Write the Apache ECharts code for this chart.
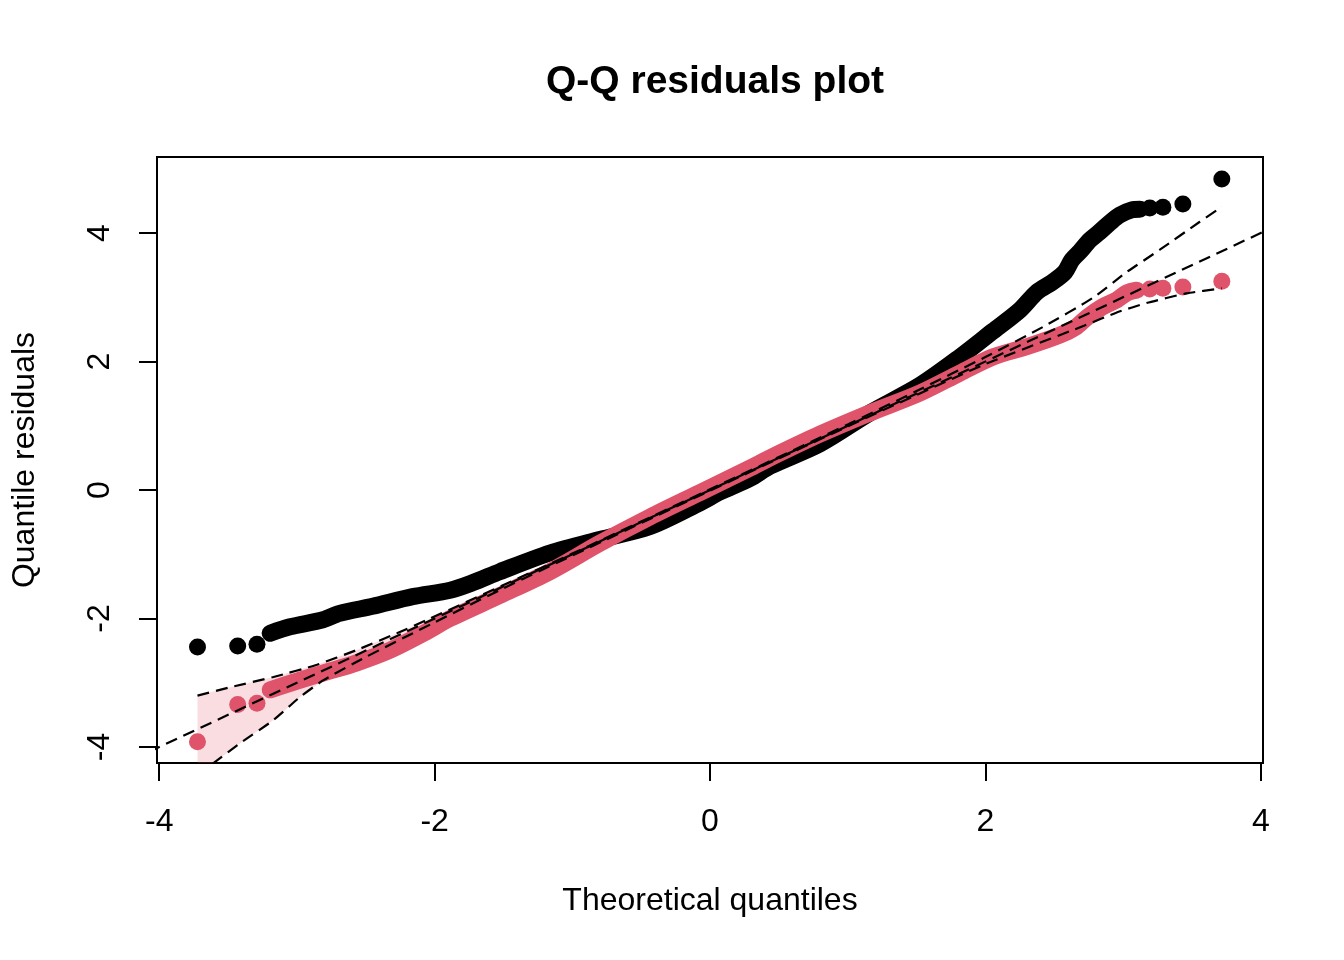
<!DOCTYPE html>
<html>
<head>
<meta charset="utf-8">
<title>Q-Q residuals plot</title>
<script src="https://cdn.jsdelivr.net/npm/echarts@6/dist/echarts.min.js"></script>
<style>
  html, body { margin: 0; padding: 0; background: #fff; }
  #main { width: 1344px; height: 960px; }
</style>
</head>
<body>
<div id="main"></div>
<script>
// values: [theoretical quantile, residual]
const xTicks = [-4, -2, 0, 2, 4];
const yTicks = [-4, -2, 0, 2, 4];

// pearson-type residuals (black), dense middle part
const blackBand = [
  [-3.194, -2.23], [-3.05, -2.13], [-2.81, -2.02], [-2.69, -1.92], [-2.45, -1.81],
  [-2.16, -1.66], [-1.887, -1.56], [-1.72, -1.44], [-1.525, -1.27], [-1.162, -0.98],
  [-0.80, -0.77], [-0.436, -0.57], [-0.073, -0.20], [0.073, -0.03], [0.29, 0.18],
  [0.436, 0.37], [0.80, 0.72], [1.162, 1.20], [1.525, 1.63], [1.815, 2.07],
  [2.054, 2.47], [2.25, 2.80], [2.374, 3.08], [2.49, 3.24], [2.577, 3.39],
  [2.628, 3.58], [2.686, 3.71], [2.759, 3.89], [2.831, 4.02], [2.904, 4.16],
  [2.976, 4.28], [3.063, 4.36], [3.122, 4.37]
];
// black isolated tail points
const blackTails = [
  [-3.722, -2.444], [-3.43, -2.428], [-3.29, -2.40],
  [3.194, 4.39], [3.289, 4.40], [3.434, 4.45], [3.717, 4.84]
];

// quantile residuals (red), dense middle part
const redBand = [
  [-3.194, -3.11], [-3.05, -3.01], [-2.81, -2.85], [-2.565, -2.69], [-2.32, -2.49],
  [-2.08, -2.23], [-1.887, -2.00], [-1.525, -1.64], [-1.162, -1.27], [-0.80, -0.83],
  [-0.436, -0.42], [-0.073, -0.04], [0.29, 0.34], [0.436, 0.50], [0.80, 0.87],
  [1.162, 1.20], [1.525, 1.51], [1.815, 1.82], [2.054, 2.07], [2.30, 2.23],
  [2.54, 2.41], [2.66, 2.54], [2.74, 2.69], [2.85, 2.85], [2.955, 2.96],
  [3.03, 3.07], [3.10, 3.11]
];
const redTails = [
  [-3.722, -3.92], [-3.43, -3.34], [-3.29, -3.32],
  [3.194, 3.13], [3.289, 3.14], [3.434, 3.16], [3.717, 3.25]
];

// confidence envelope (dashed) and the 1:1 line
const upperEnv = [
  [-3.722, -3.20], [-3.485, -3.07], [-3.17, -2.91], [-2.855, -2.72], [-2.565, -2.49],
  [-2.274, -2.23], [-2.033, -2.00], [-1.5, -1.48], [-1.0, -0.99], [0, 0.01],
  [1.0, 1.02], [1.5, 1.54], [2.0, 2.07], [2.42, 2.54], [2.78, 2.99],
  [3.025, 3.39], [3.267, 3.74], [3.557, 4.175], [3.717, 4.41]
];
const lowerEnv = [
  [-3.722, -4.44], [-3.606, -4.25], [-3.412, -3.94], [-3.17, -3.58], [-2.976, -3.22],
  [-2.807, -2.96], [-2.5, -2.60], [-2.0, -2.06], [-1.5, -1.53], [-1.0, -1.02],
  [0, -0.01], [1.0, 0.99], [1.5, 1.48], [2.0, 1.96], [2.72, 2.56],
  [2.95, 2.76], [3.17, 2.91], [3.46, 3.06], [3.717, 3.14]
];
const refLine = [[-4.2, -4.2], [4.2, 4.2]];

const RED = '#DF536B';
const FONT = 'Liberation Sans';
const dashed = { color: '#000', width: 2.2, type: [12, 7] };

// shaded band only shows on the left side
const bandUpper = upperEnv.filter(p => p[0] <= -1);
const bandLower = lowerEnv.filter(p => p[0] <= -1);

var myChart = echarts.init(document.getElementById('main'));
myChart.setOption({
  animation: false,
  backgroundColor: '#fff',
  title: {
    text: 'Q-Q residuals plot',
    left: 710,
    textAlign: 'center',
    top: 58,
    textStyle: { fontFamily: FONT, fontSize: 39, fontWeight: 'bold', color: '#000' }
  },
  grid: {
    left: 157, right: 81, top: 157, bottom: 197,
    show: true, borderColor: '#000', borderWidth: 2, backgroundColor: 'transparent'
  },
  xAxis: {
    type: 'value', min: -4.016, max: 4.016,
    name: 'Theoretical quantiles', nameLocation: 'middle', nameGap: 122,
    nameTextStyle: { fontFamily: FONT, fontSize: 32, color: '#000' },
    axisLine: { show: false, onZero: false },
    axisTick: { show: true, length: 18, lineStyle: { color: '#000', width: 2 }, customValues: xTicks },
    axisLabel: { fontFamily: FONT, fontSize: 32, color: '#000', margin: 43, customValues: xTicks },
    splitLine: { show: false }
  },
  yAxis: {
    type: 'value', min: -4.249, max: 5.183,
    name: 'Quantile residuals', nameLocation: 'middle', nameGap: 116,
    nameTextStyle: { fontFamily: FONT, fontSize: 32, color: '#000' },
    axisLine: { show: false, onZero: false },
    axisTick: { show: true, length: 18, lineStyle: { color: '#000', width: 2 }, customValues: yTicks },
    axisLabel: { fontFamily: FONT, fontSize: 32, color: '#000', margin: 41, rotate: 90, customValues: yTicks },
    splitLine: { show: false }
  },
  series: [
    {
      type: 'custom', silent: true, z: 1,
      data: [[0, 0]],
      renderItem: function (params, api) {
        var pts = bandUpper.map(p => api.coord(p))
          .concat(bandLower.slice().reverse().map(p => api.coord(p)));
        var cs = params.coordSys;
        return {
          type: 'polygon',
          shape: { points: pts },
          style: { fill: 'rgba(223,83,107,0.2)' },
          clipPath: { type: 'rect', shape: { x: cs.x, y: cs.y, width: cs.width, height: cs.height } }
        };
      }
    },
    {
      type: 'line', data: blackBand, z: 2, symbol: 'none', smooth: 0.3,
      lineStyle: { color: '#000', width: 17, cap: 'round', join: 'round' }
    },
    {
      type: 'scatter', data: blackTails, z: 2, symbolSize: 17,
      itemStyle: { color: '#000', opacity: 1 }
    },
    {
      type: 'line', data: redBand, z: 3, symbol: 'none', smooth: 0.3,
      lineStyle: { color: RED, width: 17, cap: 'round', join: 'round' }
    },
    {
      type: 'scatter', data: redTails, z: 3, symbolSize: 17,
      itemStyle: { color: RED, opacity: 1 }
    },
    { type: 'line', data: refLine, z: 4, symbol: 'none', lineStyle: dashed },
    { type: 'line', data: upperEnv, z: 4, symbol: 'none', smooth: 0.2, lineStyle: dashed },
    { type: 'line', data: lowerEnv, z: 4, symbol: 'none', smooth: 0.2, lineStyle: dashed }
  ]
});
</script>
</body>
</html>
